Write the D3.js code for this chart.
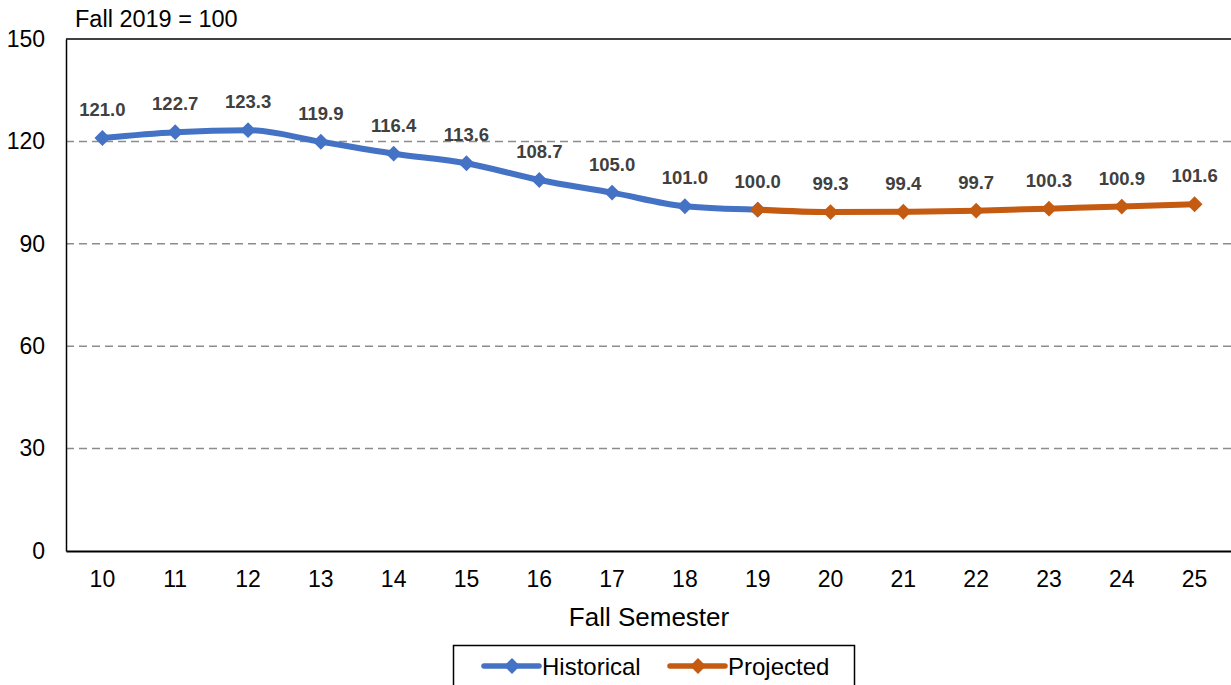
<!DOCTYPE html>
<html>
<head>
<meta charset="utf-8">
<script src="https://cdn.jsdelivr.net/npm/d3@7"></script>
<style>
  body { margin: 0; background: #fff; }
  svg text { font-family: "Liberation Sans", Arial, sans-serif; }
</style>
</head>
<body>
<div id="chart"></div>
<script>
var years = ["10","11","12","13","14","15","16","17","18","19","20","21","22","23","24","25"];
var historical = [121.0, 122.7, 123.3, 119.9, 116.4, 113.6, 108.7, 105.0, 101.0, 100.0];
var projected = [100.0, 99.3, 99.4, 99.7, 100.3, 100.9, 101.6];
var projStart = 9; // projected series begins at "19"
var labelValues = historical.concat(projected.slice(1));
var yTicks = [0, 30, 60, 90, 120, 150];

var w = 1231, h = 685;
var margin = {left: 66, right: 0, top: 39, bottom: 134};

var svg = d3.select("#chart").append("svg")
   .attr("width", w)
   .attr("height", h);

var xScale = d3.scaleBand()
   .domain(years)
   .range([margin.left, w - margin.right]);

var yScale = d3.scaleLinear()
   .domain([0, 150])
   .range([h - margin.bottom, margin.top]);

var xc = function(i) { return xScale(years[i]) + xScale.bandwidth() / 2; };

//gridlines
svg.selectAll(".grid")
   .data([30, 60, 90, 120])
   .enter()
   .append("line")
   .attr("x1", margin.left)
   .attr("x2", w - margin.right)
   .attr("y1", function(d) { return yScale(d); })
   .attr("y2", function(d) { return yScale(d); })
   .attr("stroke", "#8c8c8c")
   .attr("stroke-width", 1.5)
   .attr("stroke-dasharray", "8,5");

//top border
svg.append("line")
   .attr("x1", margin.left).attr("x2", w - margin.right)
   .attr("y1", yScale(150)).attr("y2", yScale(150))
   .attr("stroke", "#000").attr("stroke-width", 1.5);

//Y axis
var yAxis = d3.axisLeft(yScale).tickValues(yTicks).tickSize(0).tickPadding(21);
var gy = svg.append("g")
   .attr("transform", "translate(" + margin.left + ",0)")
   .call(yAxis);
gy.select(".domain").attr("stroke", "#000").attr("stroke-width", 1.5);
gy.selectAll("text").style("font-size", "23px").attr("fill", "#000");

//X axis
var xAxis = d3.axisBottom(xScale).tickSize(0).tickPadding(20);
var gx = svg.append("g")
   .attr("transform", "translate(0," + yScale(0) + ")")
   .call(xAxis);
gx.select(".domain").attr("stroke", "#000").attr("stroke-width", 2);
gx.selectAll("text").style("font-size", "23px").attr("fill", "#000");

//axis titles
svg.append("text")
   .attr("x", 75).attr("y", 27)
   .style("font-size", "23.5px")
   .text("Fall 2019 = 100");

svg.append("text")
   .attr("x", 649).attr("y", 626)
   .attr("text-anchor", "middle")
   .style("font-size", "26px")
   .text("Fall Semester");

var line = d3.line()
   .x(function(d) { return xc(d.i); })
   .y(function(d) { return yScale(d.v); })
   .curve(d3.curveMonotoneX);

var histData = historical.map(function(v, i) { return {i: i, v: v}; });
var projData = projected.map(function(v, i) { return {i: i + projStart, v: v}; });

var series = [
   {data: histData, color: "#4472C4"},
   {data: projData, color: "#C55A11"}
];

var diamond = d3.symbol().type(d3.symbolDiamond2).size(160);

series.forEach(function(s) {
   svg.append("path")
      .datum(s.data)
      .attr("d", line)
      .attr("fill", "none")
      .attr("stroke", s.color)
      .attr("stroke-width", 6)
      .attr("stroke-linejoin", "round");

   svg.selectAll(null)
      .data(s.data)
      .enter()
      .append("path")
      .attr("d", diamond)
      .attr("transform", function(d) { return "translate(" + xc(d.i) + "," + yScale(d.v) + ")"; })
      .attr("fill", s.color);
});

//data labels
svg.selectAll(".lbl")
   .data(labelValues)
   .enter()
   .append("text")
   .attr("x", function(d, i) { return xc(i); })
   .attr("y", function(d) { return yScale(d) - 22; })
   .attr("text-anchor", "middle")
   .style("font-size", "18.5px")
   .style("font-weight", "bold")
   .attr("fill", "#404040")
   .text(function(d) { return d.toFixed(1); });

//legend
var lg = svg.append("g");
lg.append("rect")
   .attr("x", 453.5).attr("y", 645.5)
   .attr("width", 401).attr("height", 50)
   .attr("fill", "#fff").attr("stroke", "#000").attr("stroke-width", 1.5);

var legendItems = [
   {name: "Historical", color: "#4472C4", x: 484},
   {name: "Projected", color: "#C55A11", x: 670}
];
legendItems.forEach(function(d) {
   lg.append("line")
      .attr("x1", d.x).attr("x2", d.x + 55)
      .attr("y1", 666).attr("y2", 666)
      .attr("stroke", d.color).attr("stroke-width", 5.5)
      .attr("stroke-linecap", "round");
   lg.append("path")
      .attr("d", diamond)
      .attr("transform", "translate(" + (d.x + 28) + ",666)")
      .attr("fill", d.color);
   lg.append("text")
      .attr("x", d.x + 58).attr("y", 675)
      .style("font-size", "24px")
      .text(d.name);
});
</script>
</body>
</html>
